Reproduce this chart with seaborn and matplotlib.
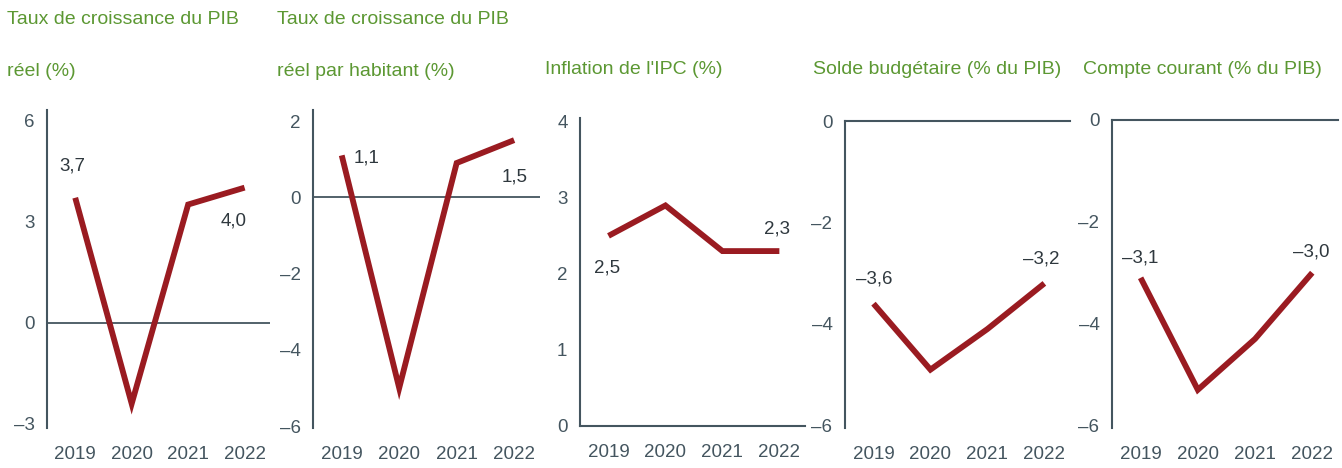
import matplotlib
matplotlib.use("Agg")
import matplotlib.pyplot as plt
import pandas as pd
import seaborn as sns

annees = ["2019", "2020", "2021", "2022"]

titres = [
    "Taux de croissance du PIB\nréel (%)",
    "Taux de croissance du PIB\nréel par habitant (%)",
    "Inflation de l'IPC (%)",
    "Solde budgétaire (% du PIB)",
    "Compte courant (% du PIB)",
]

pib_reel = [3.7, -2.4, 3.5, 4.0]
pib_habitant = [1.1, -5.0, 0.9, 1.5]
inflation_ipc = [2.5, 2.9, 2.3, 2.3]
solde_budget = [-3.6, -4.9, -4.1, -3.2]
compte_courant = [-3.1, -5.3, -4.3, -3.0]

yticks_list = [[-3, 0, 3, 6], [-6, -4, -2, 0, 2], [0, 1, 2, 3, 4], [-6, -4, -2, 0], [-6, -4, -2, 0]]

sns.set_style("white")
plt.rcParams["font.family"] = ["Liberation Sans", "DejaVu Sans"]

rouge = "#9a1b21"
vert = "#5c9833"
gris = "#44555f"

W, H = 1342, 468
fig = plt.figure(figsize=(W / 100, H / 100), dpi=100)

# position des axes en pixels : gauche, haut, largeur, bas
cadres = [(47, 110, 223, 428), (313, 110, 227, 428), (580, 118, 225, 426),
          (845, 121, 225, 428), (1112, 120, 226, 428)]
limites = [(-3.12, 6.3), (-6.05, 2.29), (0, 4.05), (-6.05, 0), (-6.05, 0)]
series = [pib_reel, pib_habitant, inflation_ipc, solde_budget, compte_courant]
titre_x = [7, 277, 545, 813, 1083]

# étiquettes : (indice, décalage x, décalage y en pixels, alignement)
etiquettes = [
    [(0, -3, 32, "center"), (3, -11, -33, "center")],
    [(0, 12, -3, "left"), (3, 0, -37, "center")],
    [(0, -1, -32, "center"), (3, -2, 22, "center")],
    [(0, 1, 25, "center"), (3, -3, 24, "center")],
    [(0, 0, 20, "center"), (3, -1, 21, "center")],
]


def fmt(v):
    return f"{v:.1f}".replace(".", ",").replace("-", "\u2013")


for i in range(5):
    g, h, w, b = cadres[i]
    ax = fig.add_axes([g / W, 1 - b / H, w / W, (b - h) / H])
    df = pd.DataFrame({"annee": range(4), "valeur": series[i]})
    sns.lineplot(data=df, x="annee", y="valeur", ax=ax, color=rouge, lw=4.2,
                 solid_joinstyle="miter", solid_capstyle="butt")
    ax.set_xlim(-0.5, 3.45)
    ax.set_ylim(*limites[i])
    ax.set_xticks(range(4))
    ax.set_xticklabels(annees)
    ax.set_yticks(yticks_list[i])
    ax.set_yticklabels([str(t).replace("-", "\u2013") for t in yticks_list[i]])
    ax.set_xlabel("")
    ax.set_ylabel("")
    ax.tick_params(length=0, labelsize=13.5, colors=gris, pad=9)
    ax.tick_params(axis="x", pad=13)
    for s in ["top", "right", "bottom"]:
        ax.spines[s].set_visible(False)
    ax.spines["left"].set_color(gris)
    ax.spines["left"].set_linewidth(1.5)
    if i == 2:
        ax.spines["bottom"].set_visible(True)
        ax.spines["bottom"].set_color(gris)
        ax.spines["bottom"].set_linewidth(1.5)
    elif i >= 3:
        ax.spines["top"].set_visible(True)
        ax.spines["top"].set_color(gris)
        ax.spines["top"].set_linewidth(1.5)
    else:
        ax.axhline(0, color=gris, lw=1.3, zorder=1)
    for k, dx, dy, ha in etiquettes[i]:
        ax.annotate(fmt(series[i][k]), (k, series[i][k]), xytext=(dx, dy),
                    textcoords="offset pixels", ha=ha, va="center",
                    fontsize=13.5, color="#2f383e")
    lignes = titres[i].split("\n")
    ys = [20, 72] if len(lignes) == 2 else [70]
    for ligne, ty in zip(lignes, ys):
        fig.text(titre_x[i] / W, 1 - ty / H, ligne, ha="left", va="center",
                 fontsize=14, color=vert)

fig.savefig("out.png", dpi=100)
